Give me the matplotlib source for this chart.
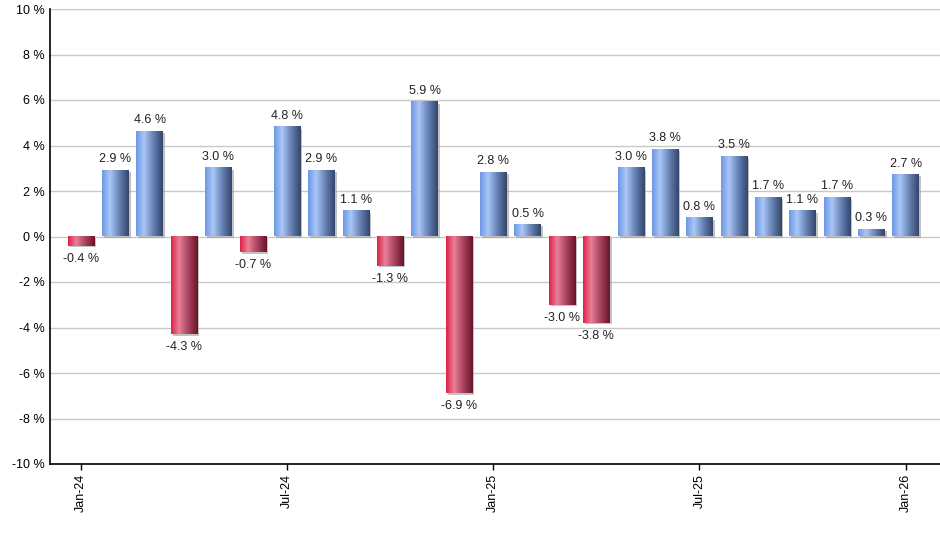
import numpy as np
import matplotlib.pyplot as plt
from matplotlib.colors import LinearSegmentedColormap
from matplotlib.patches import Rectangle

plt.rcParams['font.family'] = ['Liberation Sans', 'DejaVu Sans']

# Monthly returns (%)
months = ['Jan-24', 'Feb-24', 'Mar-24', 'Apr-24', 'May-24', 'Jun-24', 'Jul-24', 'Aug-24',
          'Sep-24', 'Oct-24', 'Nov-24', 'Dec-24', 'Jan-25', 'Feb-25', 'Mar-25', 'Apr-25',
          'May-25', 'Jun-25', 'Jul-25', 'Aug-25', 'Sep-25', 'Oct-25', 'Nov-25', 'Dec-25', 'Jan-26']
values = [-0.4, 2.9, 4.6, -4.3, 3.0, -0.7, 4.8, 2.9, 1.1, -1.3, 5.9, -6.9, 2.8, 0.5,
          -3.0, -3.8, 3.0, 3.8, 0.8, 3.5, 1.7, 1.1, 1.7, 0.3, 2.7]
tick_labels = ['Jan-24', 'Jul-24', 'Jan-25', 'Jul-25', 'Jan-26']
y_ticks = [-10, -8, -6, -4, -2, 0, 2, 4, 6, 8, 10]

blue_cm = LinearSegmentedColormap.from_list(
    'blue', [(0, '#6e98e6'), (0.3, '#aac6f6'), (0.65, '#6580b4'), (1, '#34466a')])
red_cm = LinearSegmentedColormap.from_list(
    'red', [(0, '#dc2448'), (0.3, '#ea8098'), (0.6, '#b04a68'), (1, '#6a1428')])

fig = plt.figure(figsize=(9.4, 5.5), dpi=100)
ax = fig.add_axes([50 / 940, 86 / 550, 890 / 940, 455 / 550])

x = np.arange(len(values))
w = 0.77
grad = np.linspace(0, 1, 64).reshape(1, -1)
for xi, v in zip(x, values):
    cm = blue_cm if v >= 0 else red_cm
    # shadow
    ax.add_patch(Rectangle((xi - w / 2 + 0.06, min(0, v) - 0.06), w, abs(v),
                           color='#9a9a9a', alpha=0.6, zorder=2, lw=0))
    ax.imshow(grad, cmap=cm, aspect='auto', zorder=3,
              extent=[xi - w / 2, xi + w / 2, min(0, v), max(0, v)])
    if v >= 0:
        ax.annotate('%.1f %%' % v, (xi, v), xytext=(0, 4), textcoords='offset points',
                    ha='center', va='bottom', fontsize=9, color='#222222')
    else:
        ax.annotate('%.1f %%' % v, (xi, v), xytext=(0, -5), textcoords='offset points',
                    ha='center', va='top', fontsize=9, color='#222222')

ax.set_xlim(-0.9, 25)
ax.set_ylim(-10, 10)
ax.set_yticks(y_ticks)
ax.set_yticklabels(['%d %%' % t for t in y_ticks], fontsize=9)
tick_pos = [months.index(t) for t in tick_labels]
ax.set_xticks(tick_pos)
ax.set_xticklabels(tick_labels, rotation=90, fontsize=9)
ax.tick_params(axis='y', length=0, pad=4)
ax.tick_params(axis='x', length=4, width=1, pad=3)
ax.grid(axis='y', color='#c8c8c8', lw=1, zorder=0)
ax.set_axisbelow(True)
for s in ['top', 'right']:
    ax.spines[s].set_visible(False)
for s in ['left', 'bottom']:
    ax.spines[s].set_linewidth(1.2)

fig.savefig('out.png', dpi=100)
